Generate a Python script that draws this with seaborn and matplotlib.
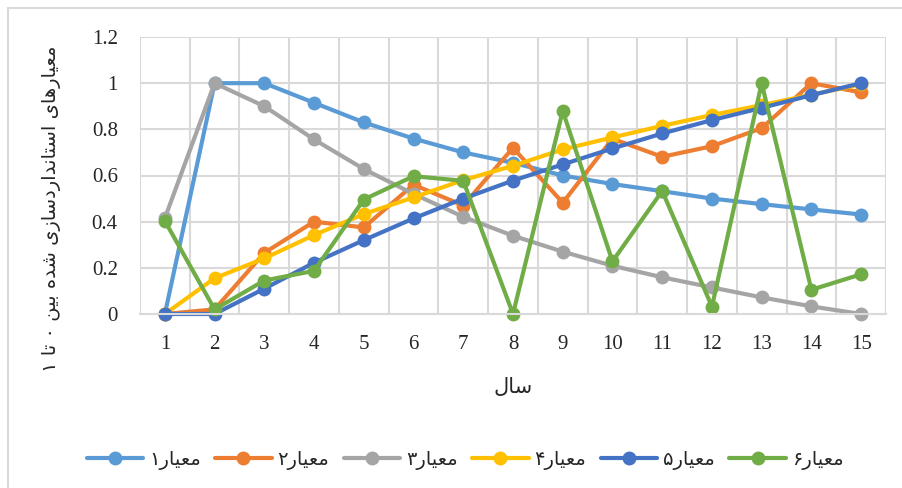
import pandas as pd
import matplotlib.pyplot as plt
import seaborn as sns
from matplotlib.patches import Rectangle

# داده‌ها
years = list(range(1, 16))
m1 = [0, 1, 1, 0.915, 0.83, 0.76, 0.70, 0.655, 0.60, 0.563, 0.532, 0.50, 0.476, 0.453, 0.431]
m2 = [0, 0.02, 0.265, 0.40, 0.375, 0.56, 0.47, 0.72, 0.482, 0.759, 0.681, 0.727, 0.805, 1.0, 0.96]
m3 = [0.415, 1, 0.90, 0.756, 0.628, 0.52, 0.421, 0.339, 0.27, 0.209, 0.159, 0.115, 0.072, 0.033, 0]
m4 = [0, 0.155, 0.241, 0.342, 0.433, 0.505, 0.58, 0.642, 0.713, 0.765, 0.815, 0.862, 0.905, 0.95, 0.995]
m5 = [0, 0, 0.11, 0.222, 0.32, 0.414, 0.50, 0.578, 0.648, 0.717, 0.782, 0.84, 0.893, 0.948, 1.0]
m6 = [0.403, 0.02, 0.145, 0.187, 0.496, 0.597, 0.577, 0, 0.88, 0.228, 0.533, 0.032, 1.0, 0.105, 0.172]
series = ['معیار۱', 'معیار۲', 'معیار۳', 'معیار۴', 'معیار۵', 'معیار۶']
colors = ['#5B9BD5', '#ED7D31', '#A5A5A5', '#FFC000', '#4472C4', '#70AD47']
xlabel = 'سال'
ylabel = 'معیارهای استانداردسازی شده بین ۰ تا ۱'

# شکل‌دهی ساده حروف فارسی (matplotlib خودش این کار را نمی‌کند)
forms = {
    'ا': ('\uFE8D', '\uFE8E'), 'د': ('\uFEA9', '\uFEAA'),
    'ر': ('\uFEAD', '\uFEAE'), 'ز': ('\uFEAF', '\uFEB0'),
    'ب': ('\uFE8F', '\uFE90', '\uFE91', '\uFE92'),
    'ت': ('\uFE95', '\uFE96', '\uFE97', '\uFE98'),
    'س': ('\uFEB1', '\uFEB2', '\uFEB3', '\uFEB4'),
    'ش': ('\uFEB5', '\uFEB6', '\uFEB7', '\uFEB8'),
    'ع': ('\uFEC9', '\uFECA', '\uFECB', '\uFECC'),
    'ل': ('\uFEDD', '\uFEDE', '\uFEDF', '\uFEE0'),
    'م': ('\uFEE1', '\uFEE2', '\uFEE3', '\uFEE4'),
    'ن': ('\uFEE5', '\uFEE6', '\uFEE7', '\uFEE8'),
    'ه': ('\uFEE9', '\uFEEA', '\uFEEB', '\uFEEC'),
    'ی': ('\uFBFC', '\uFBFD', '\uFBFE', '\uFBFF'),
}


def fa(text):
    out = []
    for i, c in enumerate(text):
        if c not in forms:
            out.append(c)
            continue
        prev = text[i - 1] if i > 0 else ''
        nxt = text[i + 1] if i + 1 < len(text) else ''
        jp = prev in forms and len(forms[prev]) == 4
        jn = nxt in forms and len(forms[c]) == 4
        f = forms[c]
        if jp and jn:
            out.append(f[3])
        elif jp:
            out.append(f[1])
        elif jn:
            out.append(f[2])
        else:
            out.append(f[0])
    return ''.join(out[::-1])


rows = []
for name, vals in zip(series, [m1, m2, m3, m4, m5, m6]):
    for x, v in zip(years, vals):
        rows.append({'سال': x, 'مقدار': v, 'معیار': name})
df = pd.DataFrame(rows)

sns.set_style('white')
plt.rcParams['font.family'] = ['Liberation Serif', 'DejaVu Sans']

fig = plt.figure(figsize=(9.03, 4.88), dpi=100)
ax = fig.add_axes([140 / 903, 1 - 314 / 488, 746 / 903, 277 / 488])
fig.patches.append(Rectangle((8 / 903, -0.1), 1.2, 1 - 8 / 488 + 0.1, transform=fig.transFigure,
                             fill=False, edgecolor='#D9D9D9', linewidth=1.5))

sns.lineplot(data=df, x='سال', y='مقدار', hue='معیار', hue_order=series, palette=colors,
             marker='o', markersize=10, markeredgewidth=0, linewidth=3, ax=ax)
for ln in ax.lines:
    ln.set_clip_on(False)

ax.set_xlim(0.5, 15.5)
ax.set_ylim(0, 1.2)
ax.set_xticks(years)
ax.set_xticks([x + 0.5 for x in range(0, 16)], minor=True)
ax.set_yticks([0, 0.2, 0.4, 0.6, 0.8, 1, 1.2])
ax.set_yticklabels(['0', '0.2', '0.4', '0.6', '0.8', '1', '1.2'])
ax.grid(axis='y', which='major', color='#D9D9D9', linewidth=1.5)
ax.grid(axis='x', which='minor', color='#D9D9D9', linewidth=1.5)
ax.set_axisbelow(True)
ax.tick_params(axis='both', which='both', length=0, labelsize=15)
ax.tick_params(axis='x', pad=15)
ax.tick_params(axis='y', pad=16)
for s in ['top', 'right', 'left']:
    ax.spines[s].set_visible(False)
ax.spines['bottom'].set_color('#D9D9D9')
ax.spines['bottom'].set_linewidth(1.5)

ax.set_xlabel(fa(xlabel), fontsize=15, family=['DejaVu Sans'])
ax.xaxis.set_label_coords(0.5, -0.228)
ax.set_ylabel(fa(ylabel), fontsize=14, family=['DejaVu Sans'])
ax.yaxis.set_label_coords(-0.106, 0.38)

handles, _ = ax.get_legend_handles_labels()
leg = ax.legend(handles, [fa(s) for s in series], loc='center', bbox_to_anchor=(465 / 903, 1 - 460 / 488),
                bbox_transform=fig.transFigure, ncol=6, frameon=False, handlelength=2.9,
                handletextpad=0.3, columnspacing=0.75, prop={'family': ['DejaVu Sans'], 'size': 14})

plt.savefig('out.png', dpi=100)
